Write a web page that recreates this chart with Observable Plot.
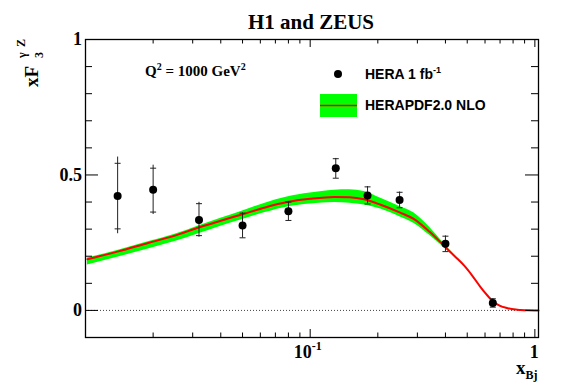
<!DOCTYPE html>
<html><head><meta charset="utf-8">
<script src="https://cdn.jsdelivr.net/npm/d3@7"></script>
<script src="https://cdn.jsdelivr.net/npm/@observablehq/plot@0.6"></script>
<style>html,body{margin:0;padding:0;background:#fff} svg{display:block}</style>
</head><body><div id="chart"></div>
<script>
// HERA combined xF3 (gamma-Z) at Q^2 = 1000 GeV^2
const dataX    = [0.0139, 0.02, 0.032, 0.05, 0.08, 0.13, 0.18, 0.25, 0.40, 0.65];
const dataY    = [0.422, 0.445, 0.334, 0.313, 0.366, 0.525, 0.424, 0.408, 0.246, 0.027];
const totLo    = [0.283, 0.354, 0.270, 0.267, 0.331, 0.487, 0.392, 0.378, 0.216, 0.011];
const totHi    = [0.566, 0.536, 0.399, 0.360, 0.401, 0.561, 0.457, 0.437, 0.275, 0.044];
const statLo   = [0.301, 0.363, 0.276, 0.268, 0.332, 0.488, 0.393, 0.379, 0.217, 0.012];
const statHi   = [0.543, 0.525, 0.394, 0.359, 0.400, 0.560, 0.456, 0.436, 0.274, 0.043];

// HERAPDF2.0 NLO prediction: central value and uncertainty band
const curveX   = [0.0102, 0.014, 0.019, 0.025, 0.0316, 0.04, 0.05, 0.063, 0.079, 0.1, 0.128, 0.15, 0.174, 0.206, 0.25, 0.29, 0.34, 0.394, 0.44, 0.485, 0.53, 0.573, 0.615, 0.655, 0.70, 0.75, 0.80, 0.862, 0.93, 1.0, 1.038];
const curveC   = [0.189, 0.218, 0.249, 0.276, 0.305, 0.331, 0.355, 0.380, 0.400, 0.412, 0.419, 0.418, 0.410, 0.390, 0.362, 0.337, 0.290, 0.239, 0.200, 0.165, 0.125, 0.086, 0.055, 0.031, 0.017, 0.009, 0.004, 0.0015, 0.0003, 0, 0];
const curveLo  = [0.168, 0.197, 0.227, 0.254, 0.282, 0.311, 0.336, 0.361, 0.382, 0.393, 0.398, 0.396, 0.389, 0.374, 0.346, 0.321, 0.277, 0.232, 0.196, 0.162, 0.123, 0.085, 0.054, 0.030, 0.016, 0.008, 0.003, 0.001, 0.0002, 0, 0];
const curveHi  = [0.193, 0.222, 0.253, 0.281, 0.311, 0.340, 0.367, 0.396, 0.419, 0.433, 0.444, 0.445, 0.439, 0.414, 0.384, 0.360, 0.307, 0.247, 0.204, 0.168, 0.127, 0.088, 0.056, 0.032, 0.018, 0.010, 0.005, 0.002, 0.0004, 0, 0];

const majorX = [0.1, 1];
const minorX = [0.02, 0.03, 0.04, 0.05, 0.06, 0.07, 0.08, 0.09, 0.2, 0.3, 0.4, 0.5, 0.6, 0.7, 0.8, 0.9];
const majorY = [0, 0.5, 1];
const minorY = [0.1, 0.2, 0.3, 0.4, 0.6, 0.7, 0.8, 0.9];
const yTickLabels = ["0", "0.5", "1"];

const points = dataX.map((x, i) => ({x, y: dataY[i], tlo: totLo[i], thi: totHi[i], slo: statLo[i], shi: statHi[i]}));
const curve = curveX.map((x, i) => ({x, c: curveC[i], lo: curveLo[i], hi: curveHi[i]}));

const W = 567, H = 383, mL = 85, mR = 29, mT = 39, mB = 46;
const FW = W - mL - mR, FH = H - mT - mB;
const serif = "'Liberation Serif','Times New Roman',serif";
const sans = "'Liberation Sans',Arial,Helvetica,sans-serif";

const capSymbol = {draw(ctx, size) { const w = Math.sqrt(size / Math.PI); ctx.moveTo(-w, 0); ctx.lineTo(w, 0); }};

const plot = Plot.plot({
  width: W, height: H,
  marginLeft: mL, marginRight: mR, marginTop: mT, marginBottom: mB,
  x: {type: "log", domain: [0.01, 1.038], axis: null},
  y: {domain: [-0.1, 1], axis: null},
  style: {background: "#fff", overflow: "visible"},
  marks: [
    Plot.ruleY([0], {stroke: "#444", strokeDasharray: "1,2", strokeWidth: 1}),
    Plot.areaY(curve, {x: "x", y1: "lo", y2: "hi", fill: "#00ff00", curve: "monotone-x"}),
    Plot.lineY(curve, {x: "x", y: "c", stroke: "#ff0000", strokeWidth: 2, curve: "monotone-x"}),
    Plot.ruleX(points, {x: "x", y1: "tlo", y2: "thi", stroke: "#222", strokeWidth: 1}),
    Plot.dot(points, {x: "x", y: "slo", symbol: capSymbol, r: 3, stroke: "#222", strokeWidth: 1, fill: "none"}),
    Plot.dot(points, {x: "x", y: "shi", symbol: capSymbol, r: 3, stroke: "#222", strokeWidth: 1, fill: "none"}),
    Plot.dot(points, {x: "x", y: "y", r: 4, fill: "#000", stroke: "none"}),
    // ROOT-style inward ticks
    Plot.tickX(majorX, {x: d => d, insetTop: FH - 8, stroke: "#000"}),
    Plot.tickX(minorX, {x: d => d, insetTop: FH - 4.5, stroke: "#000"}),
    Plot.tickX(majorX, {x: d => d, insetBottom: FH - 8, stroke: "#000"}),
    Plot.tickX(minorX, {x: d => d, insetBottom: FH - 4.5, stroke: "#000"}),
    Plot.tickY(majorY, {y: d => d, insetRight: FW - 13, stroke: "#000"}),
    Plot.tickY(minorY, {y: d => d, insetRight: FW - 7, stroke: "#000"}),
    Plot.tickY(majorY, {y: d => d, insetLeft: FW - 13, stroke: "#000"}),
    Plot.tickY(minorY, {y: d => d, insetLeft: FW - 7, stroke: "#000"}),
    Plot.frame({stroke: "#000", strokeWidth: 1.3})
  ]
});
document.getElementById("chart").appendChild(plot);

const sx = plot.scale("x"), sy = plot.scale("y");
const svg = d3.select(plot);
const txt = (x, y, anchor) => svg.append("text").attr("x", x).attr("y", y).attr("text-anchor", anchor).attr("fill", "#000");

// y tick labels
majorY.forEach((v, i) => {
  txt(82, sy.apply(v), "end").attr("dy", "0.35em")
    .attr("font-family", serif).attr("font-weight", "bold").attr("font-size", 18).text(yTickLabels[i]);
});
// x tick labels
{
  const t = txt(sx.apply(0.1) - 16, 358, "start")
    .attr("font-family", serif).attr("font-weight", "bold").attr("font-size", 18);
  t.append("tspan").text("10");
  t.append("tspan").attr("font-size", 12).attr("dy", -8).text("-1");
  txt(sx.apply(1), 358, "middle")
    .attr("font-family", serif).attr("font-weight", "bold").attr("font-size", 18).text("1");
}
// x axis title
{
  const t = txt(516, 374, "start")
    .attr("font-family", serif).attr("font-weight", "bold").attr("font-size", 19);
  t.append("tspan").text("x");
  t.append("tspan").attr("font-size", 12).attr("dy", 5).text("Bj");
}
// y axis title (rotated)
{
  const g = svg.append("g").attr("transform", "translate(38,87) rotate(-90)")
    .attr("font-family", serif).attr("font-weight", "bold").attr("fill", "#000").attr("text-anchor", "start");
  g.append("text").attr("x", 0).attr("y", 0).attr("font-size", 19).text("xF");
  g.append("text").attr("x", 29).attr("y", 5).attr("font-size", 12).text("3");
  g.append("text").attr("x", 29).attr("y", -12).attr("font-size", 12).text("\u03b3");
  g.append("text").attr("x", 40).attr("y", -13).attr("font-size", 12).text("Z");
}
// title
txt(311, 29, "middle").attr("font-family", serif).attr("font-weight", "bold").attr("font-size", 21).text("H1 and ZEUS");
// Q2 label
{
  const t = txt(145, 76, "start")
    .attr("font-family", serif).attr("font-weight", "bold").attr("font-size", 15);
  t.append("tspan").text("Q");
  t.append("tspan").attr("font-size", 10).attr("dy", -6).text("2");
  t.append("tspan").attr("dy", 6).text(" = 1000 GeV");
  t.append("tspan").attr("font-size", 10).attr("dy", -6).text("2");
}
// legend
svg.append("circle").attr("cx", 338).attr("cy", 74).attr("r", 4).attr("fill", "#000");
{
  const t = txt(365, 79, "start")
    .attr("font-family", sans).attr("font-weight", "bold").attr("font-size", 14);
  t.append("tspan").text("HERA 1 fb");
  t.append("tspan").attr("font-size", 9).attr("dy", -6).text("-1");
}
svg.append("rect").attr("x", 320).attr("y", 94).attr("width", 37).attr("height", 23).attr("fill", "#00ff00");
svg.append("line").attr("x1", 320).attr("x2", 357).attr("y1", 105.5).attr("y2", 105.5).attr("stroke", "#ff0000").attr("stroke-width", 1.5);
txt(365, 110, "start").attr("font-family", sans).attr("font-weight", "bold").attr("font-size", 14).text("HERAPDF2.0 NLO");
</script>
</body></html>
